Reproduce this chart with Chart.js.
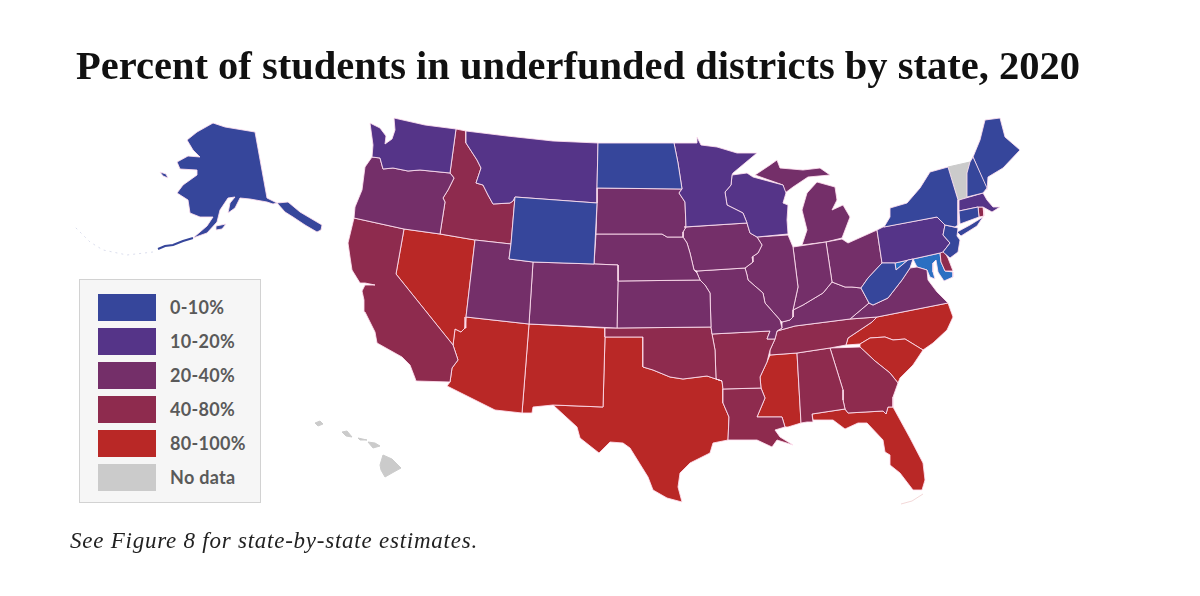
<!DOCTYPE html>
<html>
<head>
<meta charset="utf-8">
<title>Percent of students in underfunded districts by state, 2020</title>
<script src="https://cdn.jsdelivr.net/npm/chart.js@4"></script>
<style>
    body { margin: 0; background: #fff; }
    #page { position: relative; width: 1200px; height: 596px; overflow: hidden; }
    #mapChart { position: absolute; left: 0; top: 0; }
    #title { position: absolute; left: 76px; top: 42px; font: bold 40.5px "Liberation Serif", serif; color: #111; white-space: nowrap; }
    #note { position: absolute; left: 70px; top: 528px; font: italic 23px "Liberation Serif", serif; color: #222; white-space: nowrap; letter-spacing: .76px; }
    #legend { position: absolute; left: 79px; top: 279px; width: 180px; height: 222px; background: #f6f6f6; border: 1px solid #d2d2d2; }
    .row { position: absolute; left: 18px; height: 27px; }
    .swatch { position: absolute; left: 0; top: 0; width: 58px; height: 27px; }
    .label { position: absolute; left: 72px; top: 2px; font: bold 18px Lato, sans-serif; letter-spacing: .3px; color: #5a5a5a; white-space: nowrap; }
</style>
</head>
<body>
<div id="page">
    <canvas id="mapChart" width="1200" height="596"></canvas>
    <div id="title">Percent of students in underfunded districts by state, 2020</div>
    <div id="legend"></div>
    <div id="note">See Figure 8 for state-by-state estimates.</div>
</div>
<script>
// Legend bands
const bandLabels = ['0-10%', '10-20%', '20-40%', '40-80%', '80-100%', 'No data'];
const bandColors = ['#36469b', '#553488', '#742f69', '#8e2b4e', '#b92826', '#cbcbcb'];
const marylandColor = '#2b6fc2';

// State outlines in map units
const AK = [[213,123],[225,127],[255,132],[267,198],[277,203],[273,204],[267,202],[250,199],[240,198],[235,208],[228,213],[230,203],[235,197],[228,198],[220,210],[217,222],[207,233],[193,238],[207,226],[213,217],[200,217],[190,213],[188,200],[177,193],[183,185],[197,175],[197,170],[180,169],[177,162],[188,156],[200,157],[193,150],[187,140],[197,132],[213,123]];
const AK_PANHANDLE = [[277,203],[288,202],[300,212],[322,225],[321,230],[317,232],[305,225],[293,217],[285,212],[277,203]];
const AK_CHAIN = [[193,238],[183,241],[173,245],[165,246],[158,249]];
const AK_FAINT_ISLES = [[153,252],[127,255],[103,250],[90,242],[73,225]];
const AK_KODIAK = [[216,226],[226,224],[222,229],[216,230],[216,226]];
const AK_STLAWRENCE = [[160,172],[166,174],[168,178],[163,176],[160,172]];
const WA = [[370,123],[380,128],[386,136],[385,144],[392,139],[395,130],[394,118],[425,125],[456,129],[450,173],[420,170],[408,171],[393,168],[383,169],[380,158],[372,157],[373,145],[370,123]];
const OR = [[372,157],[380,158],[383,169],[393,168],[408,171],[420,170],[450,173],[454,178],[448,190],[443,198],[445,202],[440,234],[404,229],[354,218],[355,207],[362,190],[365,167],[372,157]];
const CA = [[354,218],[404,229],[396,274],[453,345],[458,360],[452,368],[450,382],[416,381],[415,378],[410,365],[402,357],[377,343],[375,332],[365,312],[364,300],[362,291],[365,285],[375,285],[365,283],[360,283],[352,270],[350,257],[348,243],[354,218]];
const NV = [[404,229],[440,234],[475,240],[466,317],[465,328],[461,332],[455,329],[453,345],[396,274],[404,229]];
const ID = [[456,129],[466,131],[466,143],[477,160],[481,168],[476,183],[483,185],[488,195],[493,204],[510,203],[513,201],[515,197],[511,244],[475,240],[440,234],[445,202],[443,198],[448,190],[454,178],[450,173],[456,129]];
const MT = [[466,131],[507,136],[553,141],[598,143],[597,188],[597,203],[515,197],[513,201],[510,203],[493,204],[488,195],[483,185],[476,183],[481,168],[477,160],[466,143],[466,131]];
const WY = [[515,197],[597,203],[594,264],[533,262],[509,259],[511,244],[515,197]];
const UT = [[475,240],[511,244],[509,259],[533,262],[529,324],[466,317],[475,240]];
const CO = [[533,262],[594,264],[618,265],[618,281],[617,328],[529,324],[533,262]];
const AZ = [[466,317],[529,324],[522,413],[495,410],[447,386],[450,382],[452,368],[458,360],[453,345],[455,329],[461,332],[465,328],[466,317]];
const NM = [[529,324],[605,328],[605,337],[603,407],[553,405],[533,407],[532,413],[522,413],[529,324]];
const ND = [[598,143],[674,143],[678,163],[682,189],[597,188],[598,143]];
const SD = [[597,188],[682,189],[679,193],[685,202],[686,227],[683,232],[683,237],[677,237],[667,237],[662,234],[596,234],[597,203],[597,188]];
const NE = [[596,234],[662,234],[667,237],[677,237],[683,237],[687,243],[690,253],[694,270],[697,273],[700,280],[618,281],[618,265],[594,264],[596,234]];
const KS = [[618,281],[700,280],[705,285],[710,293],[711,327],[617,328],[618,281]];
const OK = [[605,328],[617,328],[711,327],[712,334],[715,350],[716,379],[722,381],[707,376],[683,379],[670,377],[653,370],[643,367],[643,337],[605,337],[605,328]];
const TX = [[605,337],[643,337],[643,367],[653,370],[670,377],[683,379],[707,376],[722,381],[723,389],[723,403],[729,417],[728,440],[713,443],[710,453],[690,463],[680,473],[678,487],[682,502],[667,498],[653,490],[648,477],[630,448],[623,443],[610,442],[599,453],[580,438],[577,427],[553,405],[603,407],[605,337]];
const MN = [[674,143],[697,143],[697,137],[701,145],[717,147],[737,153],[757,153],[733,173],[732,175],[731,185],[725,192],[727,205],[743,213],[747,223],[684,227],[686,227],[685,202],[679,193],[682,189],[678,163],[674,143]];
const IA = [[686,227],[747,223],[750,233],[757,237],[762,245],[758,253],[752,257],[753,262],[745,268],[697,271],[694,270],[690,253],[687,243],[683,237],[683,232],[686,227]];
const MO = [[697,271],[745,268],[747,275],[748,280],[763,293],[765,303],[780,320],[782,328],[777,331],[775,339],[767,339],[770,331],[712,334],[711,327],[710,293],[705,285],[700,280],[697,273],[697,271]];
const AR = [[712,334],[770,331],[767,339],[775,339],[770,350],[767,362],[760,377],[761,388],[723,389],[722,381],[716,379],[715,350],[712,334]];
const LA = [[723,389],[761,388],[765,398],[757,417],[782,417],[785,427],[775,430],[780,437],[793,445],[777,440],[772,447],[757,440],[750,440],[733,440],[728,440],[729,417],[723,403],[723,389]];
const WI = [[732,175],[747,173],[753,177],[783,185],[786,193],[783,203],[788,205],[787,220],[788,234],[757,237],[750,233],[747,223],[743,213],[727,205],[725,192],[731,185],[732,175]];
const IL = [[757,237],[788,235],[793,247],[798,287],[793,310],[793,317],[790,320],[782,322],[780,320],[765,303],[763,293],[748,280],[747,275],[745,268],[753,262],[752,257],[758,253],[762,245],[757,237]];
const IN = [[793,247],[826,242],[832,282],[823,293],[803,305],[793,310],[798,287],[793,247]];
const OH = [[826,242],[842,239],[848,243],[877,230],[882,263],[868,278],[861,288],[852,287],[845,287],[832,282],[826,242]];
const MI_LOWER = [[802,245],[807,230],[802,210],[807,193],[817,182],[835,187],[837,200],[832,210],[843,205],[850,217],[842,238],[826,242],[802,245]];
const MI_UPPER = [[755,175],[770,165],[777,160],[780,168],[803,170],[820,168],[830,175],[808,177],[793,187],[785,193],[783,185],[755,175]];
const KY = [[782,322],[790,320],[793,317],[793,310],[803,305],[823,293],[832,282],[845,287],[852,287],[861,288],[869,303],[850,319],[795,326],[777,331],[782,328],[782,322]];
const TN = [[777,331],[795,326],[850,319],[877,317],[872,322],[860,330],[848,338],[846,345],[830,348],[797,353],[770,355],[770,350],[775,339],[777,331]];
const WV = [[861,288],[868,278],[882,263],[895,263],[896,270],[908,260],[913,259],[910,268],[902,280],[888,298],[873,305],[869,303],[861,288]];
const VA = [[850,319],[869,303],[873,305],[888,298],[902,280],[910,268],[917,267],[927,270],[928,280],[937,292],[948,303],[877,317],[850,319]];
const MD = [[895,263],[940,253],[941,262],[945,271],[953,272],[953,277],[944,281],[938,272],[936,260],[933,263],[933,272],[935,279],[930,277],[927,270],[917,267],[913,259],[908,260],[896,270],[895,263]];
const DE = [[940,252],[944,251],[948,258],[953,271],[945,271],[941,262],[940,252]];
const PA = [[877,230],[883,227],[937,217],[945,225],[943,235],[950,243],[943,252],[940,253],[895,263],[882,263],[877,230]];
const NY = [[884,227],[890,217],[890,208],[907,203],[920,188],[930,172],[948,167],[958,200],[958,225],[955,227],[945,225],[937,217],[884,227]];
const NY_LONG_ISLAND = [[957,232],[970,225],[983,217],[977,226],[961,236],[957,232]];
const VT = [[948,167],[970,162],[967,173],[967,197],[959,200],[948,167]];
const NH = [[970,162],[973,157],[987,188],[983,193],[967,197],[967,173],[970,162]];
const ME = [[973,157],[980,140],[985,120],[1000,118],[1005,137],[1020,150],[1003,168],[988,177],[987,190],[973,157]];
const MA = [[959,200],[983,193],[987,200],[993,207],[1000,207],[992,212],[983,207],[978,207],[959,211],[959,200]];
const RI = [[978,207],[983,207],[984,216],[979,217],[978,207]];
const CT = [[959,211],[978,207],[979,217],[960,224],[959,211]];
const NJ = [[945,225],[958,228],[957,236],[960,240],[958,252],[950,258],[943,252],[950,243],[943,235],[945,225]];
const MS = [[770,355],[797,353],[801,423],[788,427],[785,427],[782,417],[757,417],[765,398],[761,388],[760,377],[767,362],[770,355]];
const AL = [[797,353],[830,348],[843,390],[843,400],[845,409],[812,414],[813,422],[807,422],[801,423],[797,353]];
const GA = [[830,348],[860,347],[875,361],[890,373],[898,383],[893,397],[893,407],[888,407],[886,414],[883,411],[848,413],[845,409],[843,400],[843,390],[830,348]];
const SC = [[860,347],[860,344],[870,338],[885,337],[893,340],[905,339],[923,350],[913,365],[900,378],[898,383],[890,373],[875,361],[860,347]];
const NC = [[877,317],[948,303],[953,317],[947,330],[933,343],[923,350],[905,339],[893,340],[885,337],[870,338],[860,344],[846,345],[848,338],[860,330],[872,322],[877,317]];
const FL = [[812,414],[845,409],[848,413],[883,411],[886,414],[888,407],[893,407],[910,438],[923,463],[925,480],[922,490],[913,490],[900,473],[890,465],[890,455],[885,452],[883,440],[867,423],[858,423],[845,429],[833,420],[813,420],[812,414]];
const FL_KEYS = [[923,494],[912,501],[901,504]];
const HI_BIG = [[383,455],[392,459],[401,468],[392,473],[385,477],[381,470],[380,465],[383,455]];
const HI_MAUI = [[368,442],[375,443],[380,446],[373,448],[368,442]];
const HI_MOLOKAI = [[358,438],[367,440],[360,440],[358,438]];
const HI_OAHU = [[342,432],[347,431],[352,437],[346,436],[342,432]];
const HI_KAUAI = [[315,423],[320,421],[323,424],[318,426],[315,423]];

// Which outline falls in which band (index into bandColors)
const band0 = [AK, AK_PANHANDLE, AK_KODIAK, AK_STLAWRENCE, WY, ND, WV, NY, NY_LONG_ISLAND, NH, ME, CT, NJ];
const band1 = [WA, MT, MN, WI, PA, MA];
const band2 = [OR, UT, CO, SD, NE, KS, IA, MO, IL, IN, OH, MI_LOWER, MI_UPPER, KY, VA];
const band3 = [CA, ID, OK, AR, LA, TN, AL, GA, RI, DE];
const band4 = [NV, AZ, NM, TX, MS, SC, NC, FL];
const band5 = [VT, HI_BIG, HI_MAUI, HI_MOLOKAI, HI_OAHU, HI_KAUAI];
const bands = [band0, band1, band2, band3, band4, band5];

const stateBorder = 'rgba(255,225,240,0.85)';

// One scatter dataset per outline
function shapeDataset(outline, color, border) {
    return {
        data: outline.map(p => ({ x: p[0], y: p[1] })),
        showLine: true,
        fill: 'shape',
        backgroundColor: color,
        borderColor: border,
        borderWidth: 1,
        pointRadius: 0,
        tension: 0
    };
}

// Open lines for the island chains
function chainDataset(outline, color, width, dash) {
    return {
        data: outline.map(p => ({ x: p[0], y: p[1] })),
        showLine: true,
        fill: false,
        borderColor: color,
        borderWidth: width,
        borderDash: dash,
        pointRadius: 0
    };
}

function buildDatasets() {
    const datasets = [];
    bands.forEach((group, i) => {
        const border = i === 5 ? bandColors[5] : stateBorder;
        group.forEach(outline => datasets.push(shapeDataset(outline, bandColors[i], border)));
    });
    datasets.push(shapeDataset(MD, marylandColor, stateBorder));
    datasets.push(chainDataset(AK_CHAIN, bandColors[0], 2, []));
    datasets.push(chainDataset(AK_FAINT_ISLES, 'rgba(54,70,155,0.18)', 1, [2, 4]));
    datasets.push(chainDataset(FL_KEYS, 'rgba(185,40,38,0.18)', 1, []));
    return datasets;
}

// Legend box
function buildLegend() {
    const legend = document.getElementById('legend');
    legend.innerHTML = bandLabels.map((label, i) => `
        <div class="row" style="top:${14 + i * 34}px">
            <div class="swatch" style="background:${bandColors[i]}"></div>
            <div class="label">${label}</div>
        </div>
    `).join('');
}

buildLegend();

new Chart(document.getElementById('mapChart').getContext('2d'), {
    type: 'scatter',
    data: { datasets: buildDatasets() },
    options: {
        responsive: false,
        animation: false,
        layout: { padding: 0 },
        plugins: { legend: { display: false }, tooltip: { enabled: false } },
        scales: {
            x: { type: 'linear', min: 0, max: 1200, display: false },
            y: { type: 'linear', min: 0, max: 596, reverse: true, display: false }
        }
    }
});
</script>
</body>
</html>
